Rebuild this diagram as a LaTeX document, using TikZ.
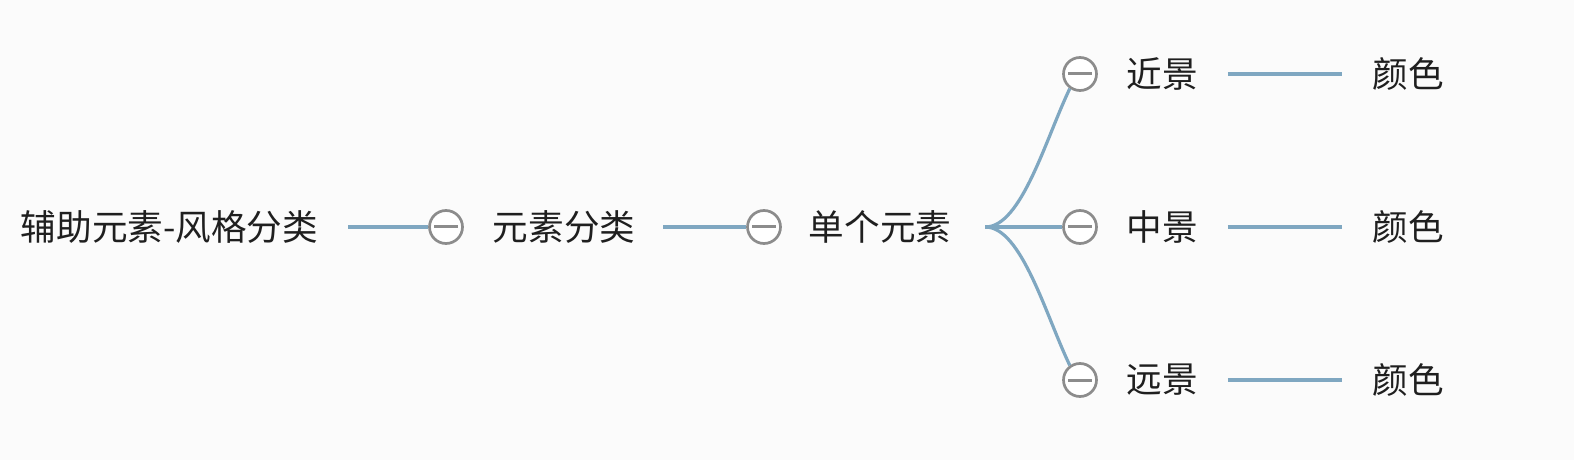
\documentclass[tikz,border=0pt]{standalone}
\usepackage{fontspec}
\setmainfont{Noto Sans CJK SC}
\begin{document}
\begin{tikzpicture}[x=1bp,y=-1bp,
  lbl/.style={inner xsep=30bp,inner ysep=0bp,font=\fontsize{35.6bp}{40bp}\selectfont,text=black!88},
  tog/.style={circle,draw=black!45,line width=2.7bp,fill=white,minimum size=33bp,inner sep=0bp,
    path picture={\draw[black!45,line width=3bp] ([xshift=-12bp]path picture bounding box.center) -- ([xshift=12bp]path picture bounding box.center);}},
  link/.style={draw=lnk,line width=3.2bp}]
\definecolor{lnk}{HTML}{7FA7C1}
\definecolor{bg}{HTML}{FBFBFB}
\fill[bg] (0,0) rectangle (1574,460);
\useasboundingbox (0,0) rectangle (1574,460);
\node[lbl] (root) at (169.5,227) {辅助元素-风格分类};
\node[tog] (t1) at (446,227) {};
\node[lbl,inner xsep=28bp] (a) at (564,227) {元素分类};
\node[tog] (t2) at (764,227) {};
\node[lbl,inner xsep=34bp] (b) at (880,227) {单个元素};
\node[tog] (t3) at (1080,74) {};
\node[tog] (t4) at (1080,227) {};
\node[tog] (t5) at (1080,380) {};
\node[lbl] (n1) at (1162,74) {近景};
\node[lbl] (n2) at (1162,227) {中景};
\node[lbl] (n3) at (1162,380) {远景};
\node[lbl] (c1) at (1408,74) {颜色};
\node[lbl] (c2) at (1408,227) {颜色};
\node[lbl] (c3) at (1408,380) {颜色};
\path[link] (root.east) -- (t1.west);
\path[link] (a.east) -- (t2.west);
\path[link] (b.east) .. controls +(36,0) and +(-24,50) .. (t3.-125);
\path[link] (b.east) -- (t4.west);
\path[link] (b.east) .. controls +(36,0) and +(-24,-50) .. (t5.125);
\path[link] (n1.east) -- (c1.west);
\path[link] (n2.east) -- (c2.west);
\path[link] (n3.east) -- (c3.west);
\end{tikzpicture}
\end{document}
